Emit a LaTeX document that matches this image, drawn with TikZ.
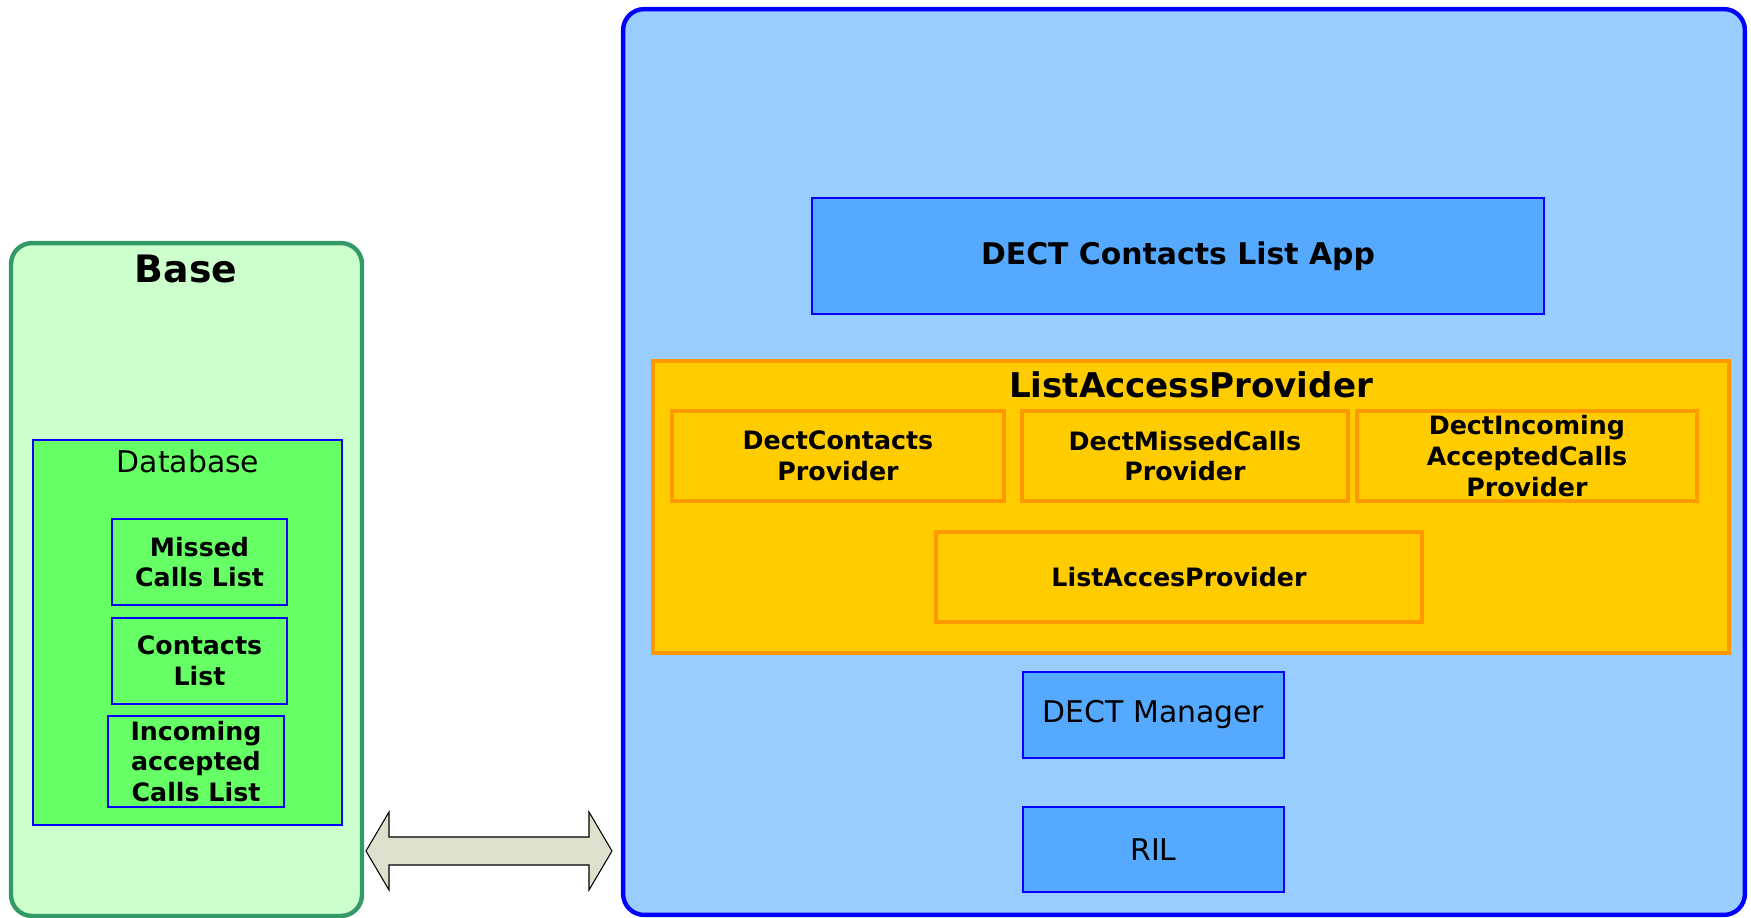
\documentclass[tikz,border=0pt]{standalone}
\usepackage{fontspec}
\setmainfont{DejaVu Sans}
\usetikzlibrary{positioning}

\definecolor{basefill}{HTML}{CCFFCC}
\definecolor{basedraw}{HTML}{339966}
\definecolor{dbfill}{HTML}{66FF66}
\definecolor{phonefill}{HTML}{99CCFF}
\definecolor{appfill}{HTML}{55AAFF}
\definecolor{lapfill}{HTML}{FFCC00}
\definecolor{lapdraw}{HTML}{FF9900}
\definecolor{arrowfill}{HTML}{DDE0CC}

\tikzset{
  outerbox/.style={draw, rounded corners=0.42cm, line width=2.5pt, inner sep=0pt},
  bluebox/.style={draw=blue, line width=1.4pt, align=center, inner sep=0pt},
  orangebox/.style={draw=lapdraw, fill=lapfill, line width=2pt, align=center, inner sep=0pt},
  boldtext/.style={font=\fontsize{14.4}{17.5}\selectfont\bfseries},
  plaintext/.style={font=\fontsize{17}{20}\selectfont},
}

\begin{document}
\begin{tikzpicture}[x=0.02cm,y=-0.02cm]
 \useasboundingbox (0,0) rectangle (1751,917);
 % base side
 \node[outerbox, draw=basedraw, fill=basefill, minimum width=7.02cm, minimum height=13.46cm] (base) at (186.5,579.5) {};
 \node[font=\fontsize{21.5}{24}\selectfont\bfseries] (basetitle) at (186,269) {Base};
 \node[bluebox, fill=dbfill, minimum width=6.18cm, minimum height=7.7cm] (db) at (187.5,632.5) {};
 \node[plaintext] (dbtitle) at (188,461) {Database};
 \node[bluebox, boldtext, minimum width=3.5cm, minimum height=1.72cm] (missed) at (199.5,562) {Missed\\Calls List};
 \node[bluebox, boldtext, minimum width=3.5cm, minimum height=1.72cm] (contacts) [below=0.21cm of missed] {Contacts\\List};
 \node[bluebox, boldtext, minimum width=3.52cm, minimum height=1.82cm] (incoming) at (196,761.5) {Incoming\\accepted\\Calls List};
 % phone side
 \node[outerbox, draw=blue, fill=phonefill, minimum width=22.44cm, minimum height=18.12cm] (phone) at (1184,462) {};
 \node[bluebox, fill=appfill, font=\fontsize{17}{20}\selectfont\bfseries, minimum width=14.64cm, minimum height=2.32cm] (app) at (1178,256) {DECT Contacts List App};
 \node[orangebox, minimum width=21.52cm, minimum height=5.84cm] (lap) at (1191,507) {};
 \node[font=\fontsize{19.4}{22}\selectfont\bfseries] (laptitle) at (1191,385) {ListAccessProvider};
 \node[orangebox, boldtext, minimum width=6.64cm, minimum height=1.8cm] (dectcontacts) at (838,456) {DectContacts\\Provider};
 \node[orangebox, boldtext, minimum width=6.52cm, minimum height=1.8cm] (dectmissed) [right=0.29cm of dectcontacts] {DectMissedCalls\\Provider};
 \node[orangebox, boldtext, minimum width=6.8cm, minimum height=1.8cm] (dectincoming) [right=0.11cm of dectmissed] {DectIncoming\\AcceptedCalls\\Provider};
 \node[orangebox, boldtext, minimum width=9.72cm, minimum height=1.8cm] (listacces) at (1179,577) {ListAccesProvider};
 \node[bluebox, fill=appfill, plaintext, minimum width=5.22cm, minimum height=1.72cm] (manager) at (1153.5,715) {DECT Manager};
 \node[bluebox, fill=appfill, plaintext, minimum width=5.22cm, minimum height=1.7cm] (ril) [below=0.93cm of manager] {RIL};
 % link between base and phone
 \coordinate (linkL) at (366,851);
 \draw[fill=arrowfill, line width=0.6pt] (linkL) -- ++(23,-39) -- ++(0,25) -- ++(200,0) -- ++(0,-25)
   -- ++(23,39) -- ++(-23,39) -- ++(0,-25) -- ++(-200,0) -- ++(0,25) -- cycle;
\end{tikzpicture}
\end{document}
